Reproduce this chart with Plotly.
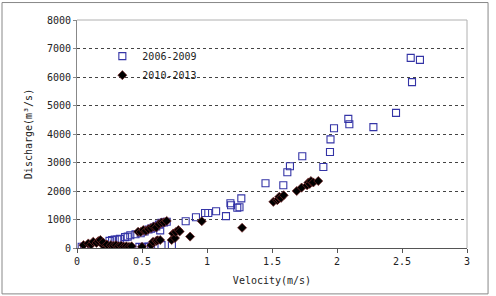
import plotly.graph_objects as go

# 2006-2009 (hollow squares)
v_0609 = [0.036, 0.055, 0.07, 0.25, 0.27, 0.29, 0.31, 0.33, 0.37, 0.39, 0.41, 0.45, 0.49, 0.52, 0.55,
          0.57, 0.59, 0.61, 0.63, 0.65, 0.67, 0.69, 0.64,
          0.48, 0.50, 0.53, 0.55, 0.57, 0.65, 0.73,
          0.836, 0.915, 0.985, 1.01, 1.07, 1.146, 1.18, 1.185, 1.233, 1.25, 1.264,
          1.45, 1.587, 1.618, 1.638, 1.733, 1.895, 1.946, 1.95, 1.977, 2.087, 2.095, 2.28,
          2.454, 2.567, 2.577, 2.638]
q_0609 = [45, 40, 50, 250, 280, 300, 300, 320, 380, 400, 450, 480, 520, 580, 650,
          680, 720, 760, 820, 880, 900, 920, 620,
          40, 30, 40, 50, 40, 100, 100,
          940, 1080, 1230, 1230, 1290, 1120, 1570, 1500, 1410, 1430, 1740,
          2270, 2200, 2660, 2870, 3220, 2840, 3370, 3810, 4200, 4530, 4340, 4240,
          4740, 6670, 5820, 6600]

# 2010-2013 (filled diamonds)
v_1013 = [0.05, 0.087, 0.11, 0.125, 0.15, 0.164, 0.18, 0.20, 0.20, 0.23, 0.26, 0.28, 0.30, 0.32,
          0.34, 0.36, 0.38, 0.40, 0.42, 0.47, 0.49, 0.51, 0.53, 0.55, 0.57, 0.59, 0.61, 0.63,
          0.65, 0.67, 0.69, 0.50, 0.57, 0.585, 0.61, 0.62, 0.64,
          0.728, 0.74, 0.754, 0.76, 0.78, 0.79, 0.87, 0.96, 1.27,
          1.51, 1.54, 1.55, 1.556, 1.57, 1.59, 1.69, 1.728, 1.77, 1.78, 1.79, 1.80, 1.818, 1.856]
q_1013 = [100, 160, 120, 220, 180, 240, 280, 100, 200, 120, 100, 80, 100, 60,
          80, 50, 60, 40, 60, 570, 560, 630, 600, 660, 700, 750, 720, 840,
          890, 900, 950, 40, 100, 220, 250, 270, 280,
          280, 510, 350, 560, 630, 580, 400, 940, 710,
          1620, 1680, 1720, 1800, 1760, 1850, 2000, 2120, 2200, 2300, 2250, 2350, 2300, 2350]

x_ticks = [0, 0.5, 1, 1.5, 2, 2.5, 3]
y_ticks = [0, 1000, 2000, 3000, 4000, 5000, 6000, 7000, 8000]

FONT = "DejaVu Sans Mono"

fig = go.Figure()
fig.add_trace(go.Scatter(
    x=v_0609, y=q_0609, mode="markers", name="2006-2009",
    marker=dict(symbol="square-open", size=7, color="#3434a6", line=dict(width=1.1, color="#3434a6")),
))
fig.add_trace(go.Scatter(
    x=v_1013, y=q_1013, mode="markers", name="2010-2013",
    marker=dict(symbol="diamond", size=7, color="#000000", line=dict(width=0.7, color="#7a2a2a")),
))

fig.update_layout(
    width=496, height=296,
    margin=dict(l=77, r=29, t=20, b=48),
    paper_bgcolor="white", plot_bgcolor="white",
    font=dict(family=FONT, size=10, color="#222222"),
    showlegend=True,
    legend=dict(x=0.065, y=0.905, xanchor="left", yanchor="top",
                bgcolor="rgba(0,0,0,0)", font=dict(family=FONT, size=10, color="#222222"),
                itemwidth=30, tracegroupgap=0),
    xaxis=dict(range=[0, 3], tickvals=x_ticks, ticktext=[str(t) for t in x_ticks],
               showgrid=False, zeroline=False, showline=True, linecolor="#555555", linewidth=1,
               mirror=False, ticks="outside", ticklen=4, tickcolor="#555555",
               title=dict(text="Velocity(m/s)", font=dict(family=FONT, size=10), standoff=10)),
    yaxis=dict(range=[0, 8000], tickvals=y_ticks, ticktext=[str(t) for t in y_ticks],
               showgrid=True, gridcolor="#444444", griddash="dot", gridwidth=1,
               zeroline=False, showline=True, linecolor="#888888", linewidth=1,
               ticks="outside", ticklen=3, tickcolor="#888888",
               title=dict(text="Discharge(m³/s)", font=dict(family=FONT, size=10), standoff=12)),
    shapes=[
        # plot-area frame top & right
        dict(type="line", xref="paper", yref="paper", x0=0, x1=1, y0=1, y1=1,
             line=dict(color="#b0b0b0", width=1)),
        dict(type="line", xref="paper", yref="paper", x0=1, x1=1, y0=0, y1=1,
             line=dict(color="#b0b0b0", width=1)),
        # outer chart border
        dict(type="rect", xref="paper", yref="paper", x0=-0.1923, x1=1.054, y0=-0.2013, y1=1.0766,
             line=dict(color="#888888", width=1), fillcolor="rgba(0,0,0,0)", layer="below"),
    ],
)

fig.write_html("out.html")
